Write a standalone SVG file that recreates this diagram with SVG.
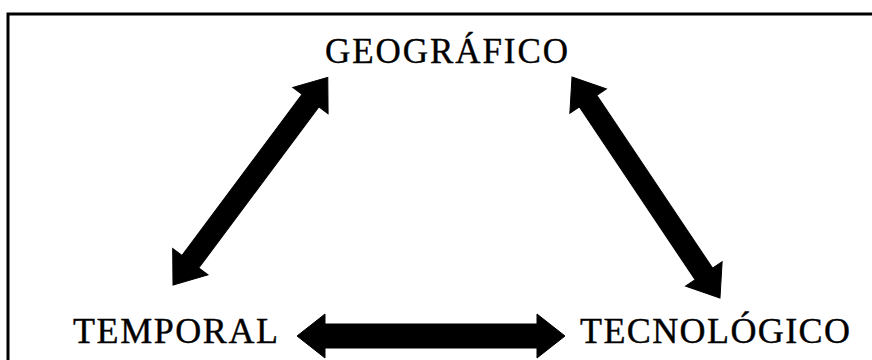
<svg xmlns="http://www.w3.org/2000/svg" width="872" height="360" viewBox="0 0 872 360">
  <style>
    .lbl { font-family: "Liberation Serif", "Times New Roman", serif; font-size: 35px; fill: #000; stroke: #000; stroke-width: 0.4; }
    .arrow { fill: #000; stroke: #000; stroke-width: 1; stroke-linejoin: miter; }
  </style>
  <rect x="0" y="0" width="872" height="360" fill="#fff"/>
  <rect x="8" y="14" width="880" height="370" fill="none" stroke="#000" stroke-width="3"/>

  <g id="node-geografico">
    <text class="lbl" x="325" y="63" textLength="243" lengthAdjust="spacing">GEOGRÁFICO</text>
  </g>
  <g id="node-temporal">
    <text class="lbl" x="73" y="343" textLength="205" lengthAdjust="spacing" style="font-size:36px">TEMPORAL</text>
  </g>
  <g id="node-tecnologico">
    <text class="lbl" x="580" y="343" textLength="270" lengthAdjust="spacing" style="font-size:36px">TECNOLÓGICO</text>
  </g>

  <g id="connectors">
    <path class="arrow" transform="translate(173,285) rotate(-53.3)" d="M0,0 L29,-22 L29,-10.5 L230,-10.5 L230,-22 L259,0 L230,22 L230,10.5 L29,10.5 L29,22 Z"/>
    <path class="arrow" transform="translate(572,77) rotate(56.2)" d="M0,0 L29,-22 L29,-10.5 L237,-10.5 L237,-22 L266,0 L237,22 L237,10.5 L29,10.5 L29,22 Z"/>
    <polygon class="arrow" points="297,336 325,314 325,324 537,324 537,314 565,336 537,358 537,348 325,348 325,358"/>
  </g>
</svg>
